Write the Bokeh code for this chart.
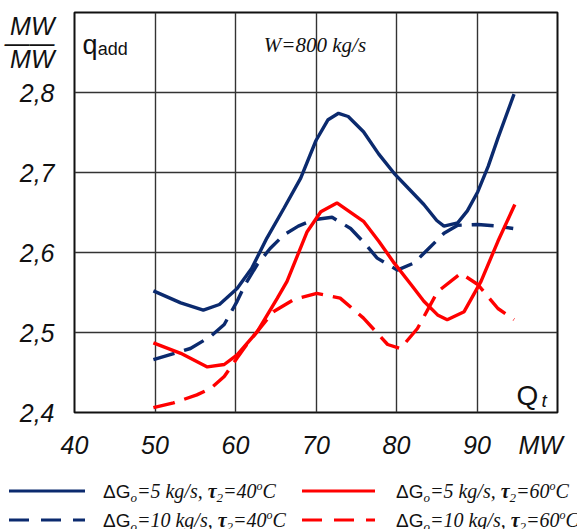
from bokeh.plotting import figure
from bokeh.models import Range1d, FixedTicker, CustomJSTickFormatter, Label, Div
from bokeh.layouts import column
from bokeh.embed import file_html
from bokeh.resources import INLINE

# ---- data ----
x_ticks = [40, 50, 60, 70, 80, 90]
x_unit_tick = 97.9          # where the "MW" unit sits on the x axis
x_grid = [40, 50, 60, 70, 80, 90, 100]
y_grid = [2.4, 2.5, 2.6, 2.7, 2.8, 2.9]
y_ticks = [2.4, 2.5, 2.6, 2.7, 2.8]
y_unit_tick = 2.8625        # where the "MW/MW" unit sits on the y axis

# dG0 = 5 kg/s, tau2 = 40 C (solid navy)
x_g5_t40 = [49.8, 53.2, 56.0, 58.0, 60.2, 62.0, 63.9, 66.0, 68.1, 70.0, 71.5, 72.8,
            74.0, 75.9, 77.8, 79.7, 81.5, 83.4, 85.0, 85.9, 87.6, 88.8, 90.1, 91.4, 92.6, 94.6]
y_g5_t40 = [2.552, 2.537, 2.528, 2.535, 2.555, 2.580, 2.618, 2.655, 2.693, 2.740, 2.766, 2.774,
            2.770, 2.751, 2.723, 2.699, 2.680, 2.660, 2.640, 2.633, 2.637, 2.652, 2.676, 2.708, 2.743, 2.798]

# dG0 = 10 kg/s, tau2 = 40 C (dashed navy)
x_g10_t40 = [49.8, 54.4, 56.9, 58.6, 60.2, 61.2, 62.7, 64.3, 66.0, 67.8, 69.7, 72.0,
             74.3, 76.0, 77.6, 80.1, 82.2, 84.0, 85.9, 87.6, 90.1, 92.5, 94.5]
y_g10_t40 = [2.466, 2.480, 2.495, 2.510, 2.539, 2.560, 2.585, 2.605, 2.622, 2.633, 2.641, 2.644,
             2.630, 2.612, 2.593, 2.578, 2.587, 2.605, 2.624, 2.634, 2.635, 2.633, 2.630]

# dG0 = 5 kg/s, tau2 = 60 C (solid red)
x_g5_t60 = [49.8, 53.2, 56.5, 58.6, 60.2, 62.7, 65.2, 66.4, 68.9, 70.6, 72.6,
            75.9, 77.8, 79.7, 81.8, 83.4, 85.1, 86.3, 88.4, 90.5, 92.6, 94.7]
y_g5_t60 = [2.487, 2.474, 2.457, 2.460, 2.472, 2.501, 2.543, 2.564, 2.626, 2.651, 2.662,
            2.639, 2.614, 2.587, 2.560, 2.539, 2.522, 2.516, 2.526, 2.564, 2.614, 2.660]

# dG0 = 10 kg/s, tau2 = 60 C (dashed red)
x_g10_t60 = [49.8, 52.3, 55.2, 56.9, 58.6, 60.2, 61.4, 64.7, 67.2, 70.1, 73.0,
             75.9, 78.9, 80.5, 82.6, 85.1, 88.0, 90.1, 92.6, 94.6]
y_g10_t60 = [2.406, 2.412, 2.422, 2.430, 2.445, 2.468, 2.485, 2.526, 2.541, 2.549, 2.543,
             2.518, 2.485, 2.480, 2.505, 2.551, 2.574, 2.560, 2.530, 2.516]

# legend entries: (flow step, tau2)
legend_g = ["5", "5", "10", "10"]
legend_t = ["40", "60", "40", "60"]

NAVY = "#0b2a6e"
RED = "#ff0000"
DASH = "22 10"
LW = 3.4
INK = "#111111"

p = figure(width=577, height=465, x_range=Range1d(40, 100), y_range=Range1d(2.4, 2.9),
           output_backend="svg", toolbar_location=None,
           min_border_left=74, min_border_right=20, min_border_top=12, min_border_bottom=53)
p.background_fill_color = "white"
p.border_fill_color = "white"
p.outline_line_color = INK
p.outline_line_width = 2

for ax in (p.xaxis[0], p.yaxis[0]):
    ax.axis_line_color = None
    ax.major_tick_line_color = None
    ax.minor_tick_line_color = None
    ax.major_label_text_font = "Liberation Sans"
    ax.major_label_text_font_style = "italic"
    ax.major_label_text_font_size = "25px"
    ax.major_label_text_color = INK

p.xaxis.ticker = FixedTicker(ticks=x_ticks + [x_unit_tick])
p.yaxis.ticker = FixedTicker(ticks=y_ticks + [y_unit_tick, y_unit_tick - 0.0001])
p.xaxis.formatter = CustomJSTickFormatter(code="return tick > 95 ? 'MW' : tick.toFixed(0);")
p.yaxis.formatter = CustomJSTickFormatter(code="""
if (Math.abs(tick - 2.8625) < 1e-6) return 'MW\\nMW';
if (tick > 2.85) return '\\u2014\\u2014';
return tick.toFixed(1).replace('.', ',');
""")
p.xaxis.major_label_standoff = 12
p.yaxis.major_label_standoff = 14

p.xgrid.ticker = FixedTicker(ticks=x_grid)
p.ygrid.ticker = FixedTicker(ticks=y_grid)
p.xgrid.grid_line_color = "#333333"
p.ygrid.grid_line_color = "#333333"
p.xgrid.grid_line_width = 1.4
p.ygrid.grid_line_width = 1.4

p.line(x_g5_t40, y_g5_t40, line_color=NAVY, line_width=LW)
p.line(x_g10_t40, y_g10_t40, line_color=NAVY, line_width=LW, line_dash=DASH)
p.line(x_g5_t60, y_g5_t60, line_color=RED, line_width=LW)
p.line(x_g10_t60, y_g10_t60, line_color=RED, line_width=LW, line_dash=DASH)

# texts in the plot
p.add_layout(Label(x=40.99, y=2.859, text="q", text_font="Liberation Sans",
                   text_font_size="27px", text_color=INK, text_baseline="alphabetic"))
p.add_layout(Label(x=42.9, y=2.855, text="add", text_font="Liberation Sans",
                   text_font_size="18px", text_color=INK, text_baseline="alphabetic"))
p.add_layout(Label(x=69.87, y=2.86, text="W=800 kg/s", text_font="Liberation Serif",
                   text_font_style="italic", text_font_size="21px", text_color=INK,
                   text_align="center", text_baseline="middle"))
p.add_layout(Label(x=94.9, y=2.421, text="Q", text_font="Liberation Sans",
                   text_font_size="28px", text_color=INK, text_baseline="alphabetic"))
p.add_layout(Label(x=98.0, y=2.415, text="t", text_font="Liberation Sans", text_font_style="italic",
                   text_font_size="19px", text_color=INK, text_baseline="alphabetic"))


# ---- legend strip under the chart (inline SVG) ----
SERIF = "font-family:'Liberation Serif';font-style:italic;font-weight:normal"
SANS = "font-family:'Liberation Sans';font-style:normal;font-weight:normal"


def entry_text(x, y, g, t):
    return (f'<text x="{x}" y="{y}" style="{SERIF};font-size:20px;fill:{INK}">'
            f'<tspan style="{SANS};font-size:19px">\u0394G</tspan>'
            f'<tspan dy="4" style="{SERIF};font-size:13px">o</tspan>'
            f'<tspan dy="-4" style="{SERIF};font-size:20px">={g} kg/s, </tspan>'
            f'<tspan style="{SERIF};font-weight:bold;font-size:20px">\u03c4</tspan>'
            f'<tspan dy="4" style="{SERIF};font-size:13px">2</tspan>'
            f'<tspan dy="-4" style="{SERIF};font-size:20px">={t}</tspan>'
            f'<tspan dy="-8" style="{SERIF};font-size:12px">o</tspan>'
            f'<tspan dy="8" style="{SERIF};font-size:20px">C</tspan></text>')


def entry_line(x0, x1, y, color, dash):
    d = f";stroke-dasharray:{dash}" if dash else ""
    return (f'<line x1="{x0}" y1="{y}" x2="{x1}" y2="{y}" '
            f'style="stroke:{color};stroke-width:3px{d}"/>')


rows_line = [26, 55]
rows_text = [33, 62]
cols = [(9, 85, 103), (302, 375, 396)]
colors = [NAVY, RED]
parts = []
for i in range(4):
    row = i // 2
    col = i % 2
    x0, x1, xt = cols[col]
    parts.append(entry_line(x0, x1, rows_line[row], colors[col], "20 12" if row == 1 else None))
    parts.append(entry_text(xt, rows_text[row], legend_g[i], legend_t[i]))

svg = ('<svg xmlns="http://www.w3.org/2000/svg" width="577" height="64" '
       'style="display:block;position:absolute;left:0;top:0">' + "".join(parts) + '</svg>')
legend_div = Div(text=svg, width=577, height=64, margin=(0, 0, 0, 0),
                 styles={"padding": "0", "margin": "0", "position": "relative", "overflow": "hidden"})

layout = column(p, legend_div, spacing=0)
open("out.html", "w").write(file_html(layout, INLINE))
